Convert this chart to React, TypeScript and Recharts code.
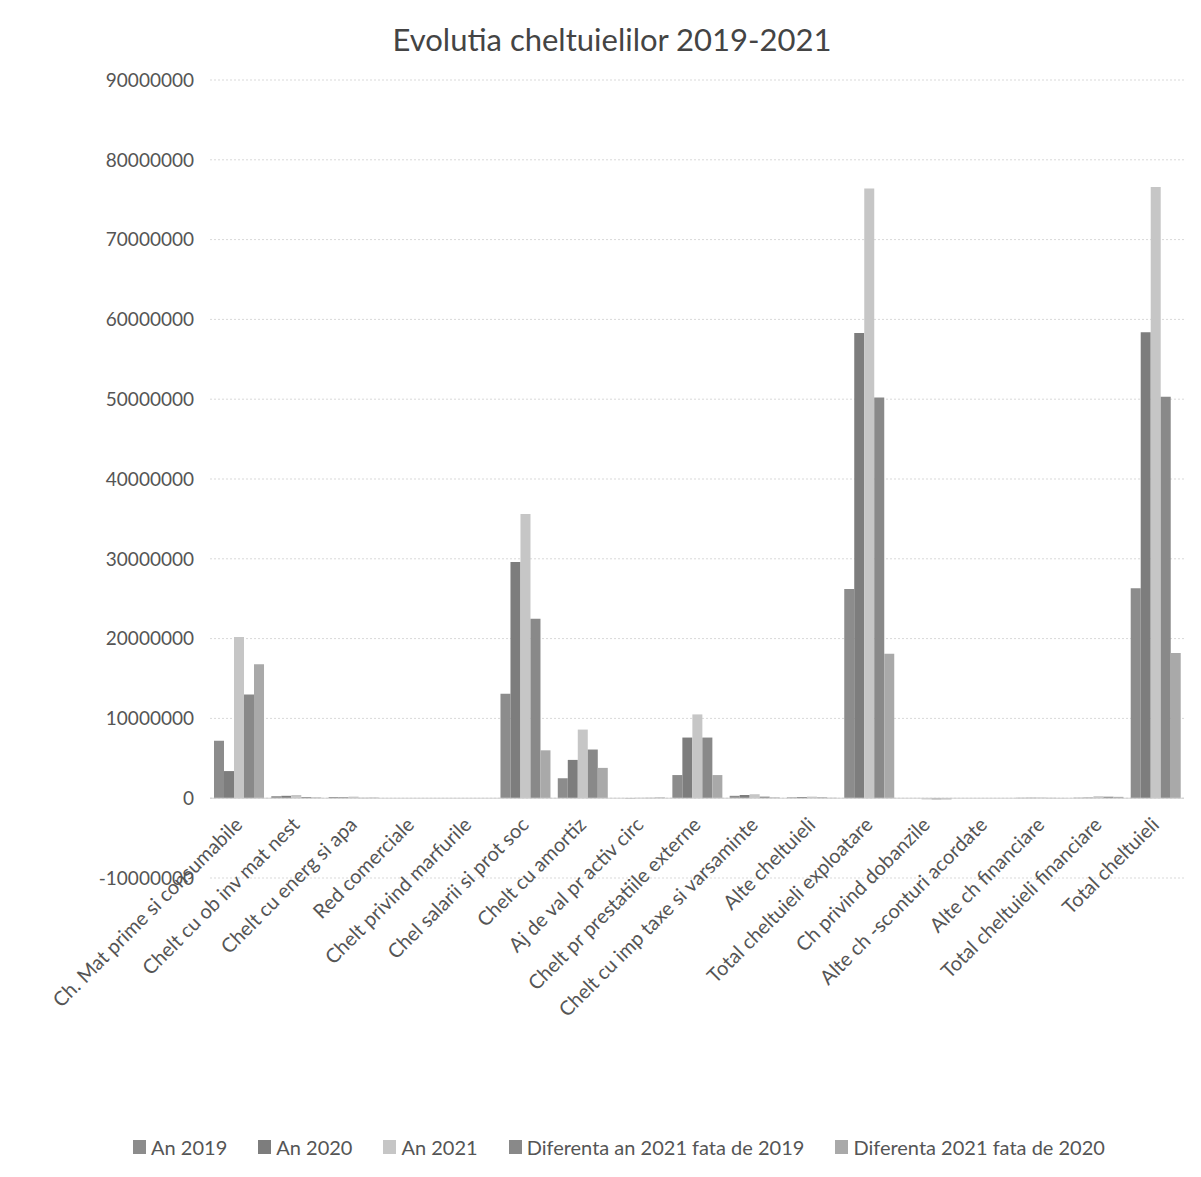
import { BarChart, Bar, XAxis, YAxis, CartesianGrid, Legend, ReferenceLine } from "recharts";

const categories = [
  "Ch. Mat prime si consumabile",
  "Chelt cu ob inv mat nest",
  "Chelt cu energ si apa",
  "Red comerciale",
  "Chelt privind marfurile",
  "Chel salarii si prot soc",
  "Chelt cu amortiz",
  "Aj de val pr activ circ",
  "Chelt pr prestatiile externe",
  "Chelt cu imp taxe si varsaminte",
  "Alte cheltuieli",
  "Total cheltuieli exploatare",
  "Ch privind dobanzile",
  "Alte ch -sconturi acordate",
  "Alte ch financiare",
  "Total cheltuieli financiare",
  "Total cheltuieli",
];

const an2019 = [7200000, 250000, 150000, 0, 0, 13100000, 2500000, 0, 2900000, 300000, 100000, 26200000, 0, 0, 50000, 60000, 26300000];
const an2020 = [3400000, 300000, 120000, 0, 0, 29600000, 4800000, -50000, 7600000, 400000, 150000, 58300000, 0, 0, 60000, 80000, 58400000];
const an2021 = [20200000, 400000, 200000, 0, 0, 35600000, 8600000, 50000, 10500000, 500000, 200000, 76400000, -150000, 0, 90000, 250000, 76600000];
const dif2019 = [13000000, 150000, 50000, 0, 0, 22500000, 6100000, 50000, 7600000, 200000, 100000, 50200000, -150000, 0, 40000, 190000, 50300000];
const dif2020 = [16800000, 100000, 80000, 0, 0, 6000000, 3800000, 100000, 2900000, 100000, 50000, 18100000, -150000, 0, 30000, 170000, 18200000];

const yTicks = [-10000000, 0, 10000000, 20000000, 30000000, 40000000, 50000000, 60000000, 70000000, 80000000, 90000000];

const series = [
  { key: "an2019", name: "An 2019", color: "#8c8c8c" },
  { key: "an2020", name: "An 2020", color: "#7d7d7d" },
  { key: "an2021", name: "An 2021", color: "#c6c6c6" },
  { key: "dif2019", name: "Diferenta an 2021 fata de 2019", color: "#898989" },
  { key: "dif2020", name: "Diferenta 2021 fata de 2020", color: "#a9a9a9" },
];

const data = categories.map((name, i) => ({
  name,
  an2019: an2019[i],
  an2020: an2020[i],
  an2021: an2021[i],
  dif2019: dif2019[i],
  dif2020: dif2020[i],
}));

const FONT = "Lato, 'Open Sans', sans-serif";

// Excel puts category labels just below the zero line, not under the plot
const CategoryTick = ({ x, y, payload }: any) => (
  <g transform={`translate(${x + 5},${y - 60})`}>
    <text
      textAnchor="end"
      transform="rotate(-45)"
      fontSize={20}
      fill="#555"
      fontFamily={FONT}
    >
      {payload.value}
    </text>
  </g>
);

// keep the series order (recharts sorts legend items by default)
const LegendContent = () => (
  <div
    style={{
      height: 30,
      display: "flex",
      justifyContent: "center",
      alignItems: "center",
      gap: 31,
      paddingLeft: 46,
      fontSize: 20,
      color: "#555",
    }}
  >
    {series.map((s) => (
      <div key={s.key} style={{ display: "flex", alignItems: "center", gap: 5 }}>
        <span style={{ display: "inline-block", width: 13, height: 14, background: s.color }} />
        <span>{s.name}</span>
      </div>
    ))}
  </div>
);

export default function App() {
  return (
    <div style={{ position: "relative", width: 1185, height: 1160, fontFamily: FONT }}>
      <div
        style={{
          position: "absolute",
          top: 12,
          left: 0,
          width: 1208,
          textAlign: "center",
          fontSize: 31,
          color: "#444",
        }}
      >
        Evolutia cheltuielilor 2019-2021
      </div>
      <BarChart
        width={1185}
        height={1160}
        data={data}
        margin={{ top: 72, right: 9, left: 0, bottom: 6 }}
        barGap={0}
        barCategoryGap="7%"
      >
        <CartesianGrid vertical={false} stroke="#d9d9d9" strokeDasharray="2 2" />
        <XAxis
          dataKey="name"
          interval={0}
          height={254}
          axisLine={false}
          tickLine={false}
          tick={<CategoryTick />}
        />
        <YAxis
          domain={[-10000000, 90000000]}
          ticks={yTicks}
          width={202}
          axisLine={false}
          tickLine={false}
          tickMargin={10}
          tick={{ fontSize: 19, fill: "#555", fontFamily: FONT }}
        />
        <ReferenceLine y={0} stroke="#d0d0d0" />
        <Legend verticalAlign="bottom" height={30} content={<LegendContent />} />
        {series.map((s) => (
          <Bar key={s.key} dataKey={s.key} name={s.name} fill={s.color} isAnimationActive={false} />
        ))}
      </BarChart>
    </div>
  );
}
